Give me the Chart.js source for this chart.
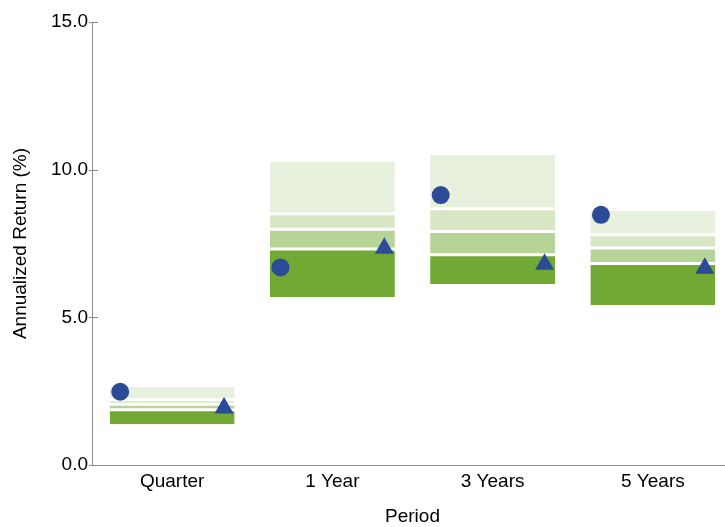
<!DOCTYPE html>
<html>
<head>
<meta charset="utf-8">
<script src="https://cdn.jsdelivr.net/npm/chart.js@4"></script>
<style>
  html, body { margin: 0; padding: 0; background: #fff; overflow: hidden; }
  #rangeChart { display: block; }
</style>
</head>
<body>
<canvas id="rangeChart" width="725" height="527"></canvas>
<script>
// Percentile ranges per period
const categories = ['Quarter', '1 Year', '3 Years', '5 Years'];
const p95 = [2.64, 10.28, 10.50, 8.61];
const p75 = [2.21, 8.51, 8.68, 7.80];
const p50 = [2.06, 7.98, 7.91, 7.35];
const p25 = [1.87, 7.31, 7.12, 6.82];
const p05 = [1.38, 5.68, 6.13, 5.42];
// Markers
const circleValues = [2.48, 6.69, 9.14, 8.47];
const triangleValues = [1.93, 7.34, 6.80, 6.66];
const yTicks = [0, 5, 10, 15];

const FONT = "'Liberation Sans', Arial, sans-serif";
const AXIS_COLOR = '#8c8c8c';
const MARKER_COLOR = '#2b4a97';
const MARKER_SHIFT = 0.324;
const OVERHANG = 8; // plot area runs past the right edge of the canvas

function band(lo, hi) {
    return categories.map((c, i) => [lo[i], hi[i]]);
}

function bandDataset(label, lo, hi, color, border) {
    return {
        type: 'bar',
        label: label,
        data: band(lo, hi),
        backgroundColor: color,
        borderColor: '#ffffff',
        borderWidth: border,
        borderSkipped: false,
        grouped: false,
        barPercentage: 0.78,
        categoryPercentage: 1.0,
        xAxisID: 'x',
        order: 2
    };
}

// stretch the horizontal scales past the canvas edge
const overhang = {
    id: 'overhang',
    afterLayout(chart) {
        const extra = chart.width + OVERHANG - chart.chartArea.right;
        chart.chartArea.right += extra;
        chart.chartArea.width += extra;
        ['x', 'x2'].forEach(id => {
            const s = chart.scales[id];
            s.right += extra;
            s.width += extra;
            s.configure();
        });
    }
};

// inward tick marks on the y axis
const yTickMarks = {
    id: 'yTickMarks',
    afterDraw(chart) {
        const y = chart.scales.y;
        const ctx = chart.ctx;
        ctx.save();
        ctx.strokeStyle = AXIS_COLOR;
        ctx.lineWidth = 1;
        y.ticks.forEach(t => {
            const py = Math.round(y.getPixelForValue(t.value)) + 0.5;
            ctx.beginPath();
            ctx.moveTo(y.right - 3, py);
            ctx.lineTo(y.right + 6, py);
            ctx.stroke();
        });
        ctx.restore();
    }
};

const ctx = document.getElementById('rangeChart').getContext('2d');

new Chart(ctx, {
    data: {
        labels: categories,
        datasets: [
            bandDataset('75th-95th', p75, p95, '#e8f0de', {top: 0, bottom: 1.5, left: 0, right: 0}),
            bandDataset('Median-75th', p50, p75, '#d7e6c5', {top: 1.5, bottom: 1.5, left: 0, right: 0}),
            bandDataset('25th-Median', p25, p50, '#b6d398', {top: 1.5, bottom: 1.5, left: 0, right: 0}),
            bandDataset('5th-25th', p05, p25, '#72a834', {top: 1.5, bottom: 0, left: 0, right: 0}),
            {
                type: 'scatter',
                label: 'Circle',
                data: circleValues.map((v, i) => ({x: i - MARKER_SHIFT, y: v})),
                pointStyle: 'circle',
                pointRadius: 9,
                backgroundColor: MARKER_COLOR,
                borderColor: MARKER_COLOR,
                borderWidth: 0,
                xAxisID: 'x2',
                order: 1
            },
            {
                type: 'scatter',
                label: 'Triangle',
                data: triangleValues.map((v, i) => ({x: i + MARKER_SHIFT, y: v})),
                pointStyle: 'triangle',
                pointRadius: 11,
                backgroundColor: MARKER_COLOR,
                borderColor: MARKER_COLOR,
                borderWidth: 0,
                xAxisID: 'x2',
                order: 1
            }
        ]
    },
    options: {
        responsive: false,
        animation: false,
        layout: {
            padding: {top: 22, right: 0, bottom: 0, left: 0}
        },
        plugins: {
            legend: {display: false},
            tooltip: {enabled: false}
        },
        scales: {
            x: {
                type: 'category',
                offset: true,
                grid: {display: true, drawOnChartArea: false, drawTicks: false, color: 'rgba(0,0,0,0)'},
                border: {display: true, color: AXIS_COLOR, width: 1},
                ticks: {color: '#000', font: {family: FONT, size: 19}, padding: 5},
                title: {display: true, text: 'Period', color: '#000', font: {family: FONT, size: 19}, padding: {top: 10, bottom: -1}},
                afterFit(scale) { scale.height = 62; }
            },
            x2: {
                type: 'linear',
                display: false,
                min: -0.5,
                max: 3.5
            },
            y: {
                min: 0,
                max: 15,
                afterBuildTicks(scale) { scale.ticks = yTicks.map(v => ({value: v})); },
                grid: {display: true, drawOnChartArea: false, drawTicks: false, color: 'rgba(0,0,0,0)'},
                border: {display: true, color: AXIS_COLOR, width: 1},
                ticks: {
                    color: '#000',
                    font: {family: FONT, size: 19},
                    padding: 4,
                    callback: v => Number(v).toFixed(1)
                },
                title: {display: true, text: 'Annualized Return (%)', color: '#000', font: {family: FONT, size: 19}, padding: {top: 9, bottom: 4}},
                afterFit(scale) { scale.width = 92; }
            }
        }
    },
    plugins: [overhang, yTickMarks]
});
</script>
</body>
</html>
